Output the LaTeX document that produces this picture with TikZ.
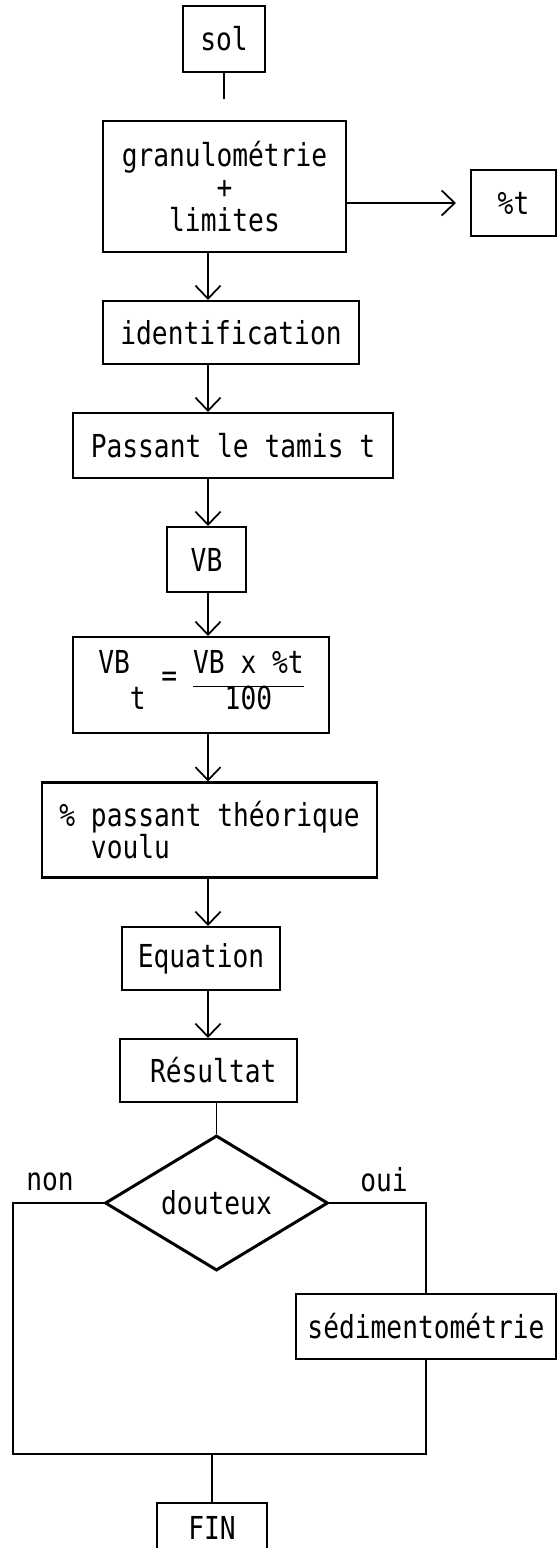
\documentclass[tikz,border=0pt]{standalone}
\usepackage{amsmath}
\usepackage{fontspec}
\setmonofont[FakeStretch=0.83]{DejaVu Sans Mono}
\usepackage{tikz}
\usetikzlibrary{arrows.meta,positioning,shapes.geometric}

\begin{document}
\begin{tikzpicture}[
    x=0.02cm, y=-0.02cm,
    font=\ttfamily\fontsize{18}{18.5}\selectfont,
    box/.style={rectangle, draw=black, line width=1.2pt, align=center, inner sep=0pt},
    test/.style={diamond, draw=black, line width=1.7pt, inner sep=0pt, minimum width=4.46cm, minimum height=2.32cm},
    link/.style={line width=1pt},
    arrow/.style={-{Straight Barb[length=2.6mm, width=5mm]}, line width=1pt}
]
\path[fill=white] (0,0) rectangle (559,1548);
\useasboundingbox (0,0) rectangle (559,1548);
\coordinate (axis) at (208,0);

\node[box, minimum width=1.64cm, minimum height=1.32cm] (sol) at (224,39) {sol};
\node[box, minimum width=4.86cm, minimum height=2.62cm] (gra) at (224.5,186.5) {granulométrie\\+\\limites};
\node[box, minimum width=1.70cm, minimum height=1.32cm] (pct) at (513.5,203) {\%t};
\node[box, minimum width=5.12cm, minimum height=1.26cm] (idn) at (231,332.5) {identification};
\node[box, minimum width=6.40cm, minimum height=1.30cm] (pas) at (233,445.5) {Passant le tamis t};
\node[box, minimum width=1.58cm, minimum height=1.30cm] (vb) at (206.5,559.5) {VB};
\node[box, minimum width=5.12cm, minimum height=1.92cm] (vbt) at (201,685)
    {\begin{tabular}{@{}l@{}c@{}c@{}}
     VB & \raisebox{-0.4em}{\ =\ } & VB x \%t\\ \cline{3-3}
     \hphantom{VB}t & & 100
     \end{tabular}};
\node[box, minimum width=6.70cm, minimum height=1.90cm, align=left] (thq) at (209.5,830)
    {\% passant théorique\\\hphantom{\% }voulu};
\node[box, minimum width=3.16cm, minimum height=1.26cm] (equ) at (201,958.5) {Equation};
\node[box, minimum width=3.54cm, minimum height=1.26cm] (res) at (208.5,1070.5) {\hspace{0.3em}Résultat};
\node[test] (dou) at (216.5,1203) {douteux};
\node (non) at (50,1182) {non};
\node (oui) at (384,1180) {oui};
\node[box, minimum width=5.20cm, minimum height=1.30cm] (sed) at (426,1326.5) {sédimentométrie};
\node[box, minimum width=2.20cm, minimum height=1.00cm] (fin) at (212,1528) {FIN};
\coordinate (jl) at (13,1454);

% main line
\draw[link, shorten >=0.42cm] (sol) -- (sol |- gra.north);
\draw[arrow, shorten >=0.28cm] (gra.east |- pct) -- (pct.west);
\draw[arrow] (gra.south -| axis) -- (idn.north -| axis);
\draw[arrow] (idn.south -| axis) -- (pas.north -| axis);
\draw[arrow] (pas.south -| axis) -- (vb.north -| axis);
\draw[arrow] (vb.south -| axis) -- (vbt.north -| axis);
\draw[arrow] (vbt.south -| axis) -- (thq.north -| axis);
\draw[arrow] (thq.south -| axis) -- (equ.north -| axis);
\draw[arrow] (equ.south -| axis) -- (res.north -| axis);
\draw[link] (dou.north) -- (dou.north |- res.south);

% branches
\draw[link] (dou.east) -| (sed.north);
\draw[link] (sed.south) -- (sed.south |- jl) -- (jl) |- (dou.west);
\draw[link] (fin.north |- jl) -- (fin.north);
\end{tikzpicture}
\end{document}
